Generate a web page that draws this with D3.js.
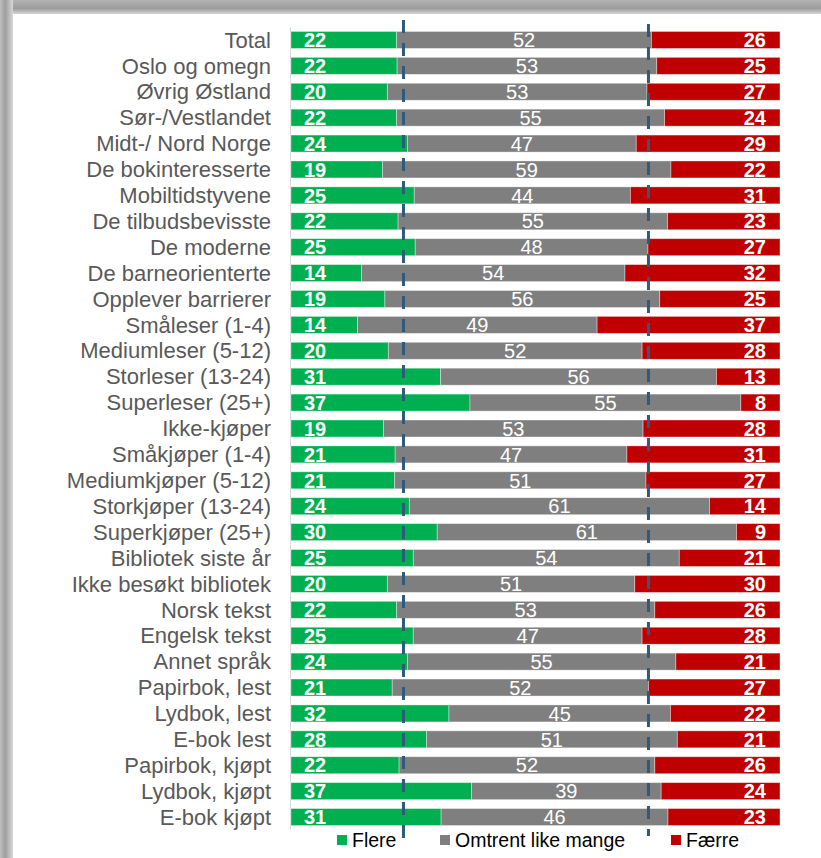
<!DOCTYPE html>
<html>
<head>
<meta charset="utf-8">
<script src="https://cdn.jsdelivr.net/npm/d3@7"></script>
<style>
  html, body { margin: 0; padding: 0; background: #fff; }
  svg { display: block; }
</style>
</head>
<body>
<div id="chart"></div>
<script>
const categories = [
  "Total", "Oslo og omegn", "Øvrig Østland", "Sør-/Vestlandet", "Midt-/ Nord Norge",
  "De bokinteresserte", "Mobiltidstyvene", "De tilbudsbevisste", "De moderne", "De barneorienterte",
  "Opplever barrierer", "Småleser (1-4)", "Mediumleser (5-12)", "Storleser (13-24)", "Superleser (25+)",
  "Ikke-kjøper", "Småkjøper (1-4)", "Mediumkjøper (5-12)", "Storkjøper (13-24)", "Superkjøper (25+)",
  "Bibliotek siste år", "Ikke besøkt bibliotek", "Norsk tekst", "Engelsk tekst", "Annet språk",
  "Papirbok, lest", "Lydbok, lest", "E-bok lest", "Papirbok, kjøpt", "Lydbok, kjøpt", "E-bok kjøpt"
];
const flere = [21.6, 21.7, 19.7, 21.6, 23.8, 18.7, 25.2, 21.9, 25.4, 14.4,
  19.2, 13.6, 19.9, 30.6, 36.6, 18.9, 21.3, 21.2, 24.2, 29.9,
  25.0, 19.7, 21.6, 25.0, 23.8, 20.7, 32.3, 27.7, 22.1, 36.9, 30.7];
const omtrent = [52.1, 53.1, 53.1, 54.8, 46.8, 59.0, 44.2, 55.1, 47.6, 53.9,
  56.2, 49.0, 51.9, 56.4, 55.4, 53.1, 47.4, 51.4, 61.4, 61.2,
  54.4, 50.6, 52.8, 46.8, 54.9, 52.4, 45.3, 51.3, 52.3, 38.8, 46.4];
const faerre = [26.3, 25.2, 27.2, 23.6, 29.4, 22.3, 30.6, 23.0, 27.0, 31.7,
  24.6, 37.4, 28.2, 13.0, 8.0, 28.0, 31.3, 27.4, 14.4, 8.9,
  20.6, 29.7, 25.6, 28.2, 21.3, 26.9, 22.4, 21.0, 25.6, 24.3, 22.9];
const seriesNames = ["Flere", "Omtrent like mange", "Færre"];
const referenceLines = [23.0, 73.1];

const W = 821, H = 858;
const colors = ["#00b050", "#7f7f7f", "#c00000"];

const svg = d3.select("#chart").append("svg")
  .attr("width", W).attr("height", H);

// frame / shadow
const defs = svg.append("defs");
const gTop = defs.append("linearGradient").attr("id", "gTop").attr("x1", 0).attr("y1", 0).attr("x2", 0).attr("y2", 1);
gTop.append("stop").attr("offset", "0%").attr("stop-color", "#b4b4b4");
gTop.append("stop").attr("offset", "60%").attr("stop-color", "#9c9c9c");
gTop.append("stop").attr("offset", "100%").attr("stop-color", "#d6d6d6");
const gLeft = defs.append("linearGradient").attr("id", "gLeft").attr("x1", 0).attr("y1", 0).attr("x2", 1).attr("y2", 0);
gLeft.append("stop").attr("offset", "0%").attr("stop-color", "#c0c0c0");
gLeft.append("stop").attr("offset", "40%").attr("stop-color", "#9e9e9e");
gLeft.append("stop").attr("offset", "100%").attr("stop-color", "#d8d8d8");

svg.append("rect").attr("x", 0).attr("y", 0).attr("width", W).attr("height", H).attr("fill", "#fff");
svg.append("rect").attr("x", 0).attr("y", 0).attr("width", W).attr("height", 14).attr("fill", "url(#gTop)");
svg.append("rect").attr("x", 0).attr("y", 0).attr("width", 13).attr("height", H).attr("fill", "url(#gLeft)");
svg.append("rect").attr("x", 13).attr("y", 14).attr("width", W - 13).attr("height", H - 14).attr("fill", "#fff");

const x = d3.scaleLinear().domain([0, 100]).range([291, 780]);
const y = d3.scaleBand().domain(categories).range([27, 830]).paddingInner(0.344).paddingOuter(0.172);

const rows = categories.map((c, i) => ({ cat: c, Flere: flere[i], "Omtrent like mange": omtrent[i], "Færre": faerre[i] }));
const stack = d3.stack().keys(seriesNames)(rows);

// axis line
svg.append("line").attr("x1", 290.5).attr("x2", 290.5).attr("y1", 27).attr("y2", 830)
  .attr("stroke", "#d9d9d9").attr("stroke-width", 1);

// category labels
const yAxis = d3.axisLeft(y).tickSize(0).tickPadding(0);
const ya = svg.append("g").attr("transform", "translate(271,0)").call(yAxis);
ya.select(".domain").remove();
ya.selectAll("text").attr("font-family", "'Liberation Sans', Arial, sans-serif")
  .attr("font-size", 22).attr("fill", "#595959").attr("dy", "0.35em");

// bars
const layers = svg.append("g").selectAll("g").data(stack).join("g")
  .attr("fill", (d, i) => colors[i]);
layers.selectAll("rect").data(d => d).join("rect")
  .attr("x", d => x(d[0]))
  .attr("width", d => x(d[1]) - x(d[0]))
  .attr("y", d => y(d.data.cat))
  .attr("height", y.bandwidth())
  .attr("stroke", "#ffffff").attr("stroke-opacity", 0.45).attr("stroke-width", 0.8);

// value labels
const fmt = d3.format(".0f");
const lab = svg.append("g").attr("font-family", "'Liberation Sans', Arial, sans-serif").attr("fill", "#fff").attr("font-size", 20);
lab.selectAll("text.fl").data(rows).join("text").attr("class", "fl")
  .attr("x", x(0) + 13).attr("y", d => y(d.cat) + y.bandwidth() / 2).attr("dy", "0.36em")
  .attr("font-weight", "bold").attr("text-anchor", "start").text(d => fmt(d.Flere));
lab.selectAll("text.om").data(stack[1]).join("text").attr("class", "om")
  .attr("x", d => (x(d[0]) + x(d[1])) / 2).attr("y", d => y(d.data.cat) + y.bandwidth() / 2).attr("dy", "0.36em")
  .attr("text-anchor", "middle").text(d => fmt(d.data["Omtrent like mange"]));
lab.selectAll("text.fa").data(rows).join("text").attr("class", "fa")
  .attr("x", x(100) - 14).attr("y", d => y(d.cat) + y.bandwidth() / 2).attr("dy", "0.36em")
  .attr("font-weight", "bold").attr("text-anchor", "end").text(d => fmt(d["Færre"]));

// reference dashed lines
const refStart = [20, 24], refEnd = [838, 836];
svg.append("g").selectAll("line").data(referenceLines).join("line")
  .attr("x1", d => x(d)).attr("x2", d => x(d))
  .attr("y1", (d, i) => refStart[i]).attr("y2", (d, i) => refEnd[i])
  .attr("stroke", "#2f5a7b").attr("stroke-width", 3).attr("stroke-dasharray", "13,10");

// legend
const legendX = [337, 440, 671];
const lg = svg.append("g").selectAll("g").data(seriesNames).join("g")
  .attr("transform", (d, i) => `translate(${legendX[i]},840)`);
lg.append("rect").attr("x", 0).attr("y", -5).attr("width", 10).attr("height", 10).attr("fill", (d, i) => colors[i]);
lg.append("text").attr("x", 15).attr("dy", "0.35em")
  .attr("font-family", "'Liberation Sans', Arial, sans-serif").attr("font-size", 19.5).attr("fill", "#000")
  .text(d => d);
</script>
</body>
</html>
